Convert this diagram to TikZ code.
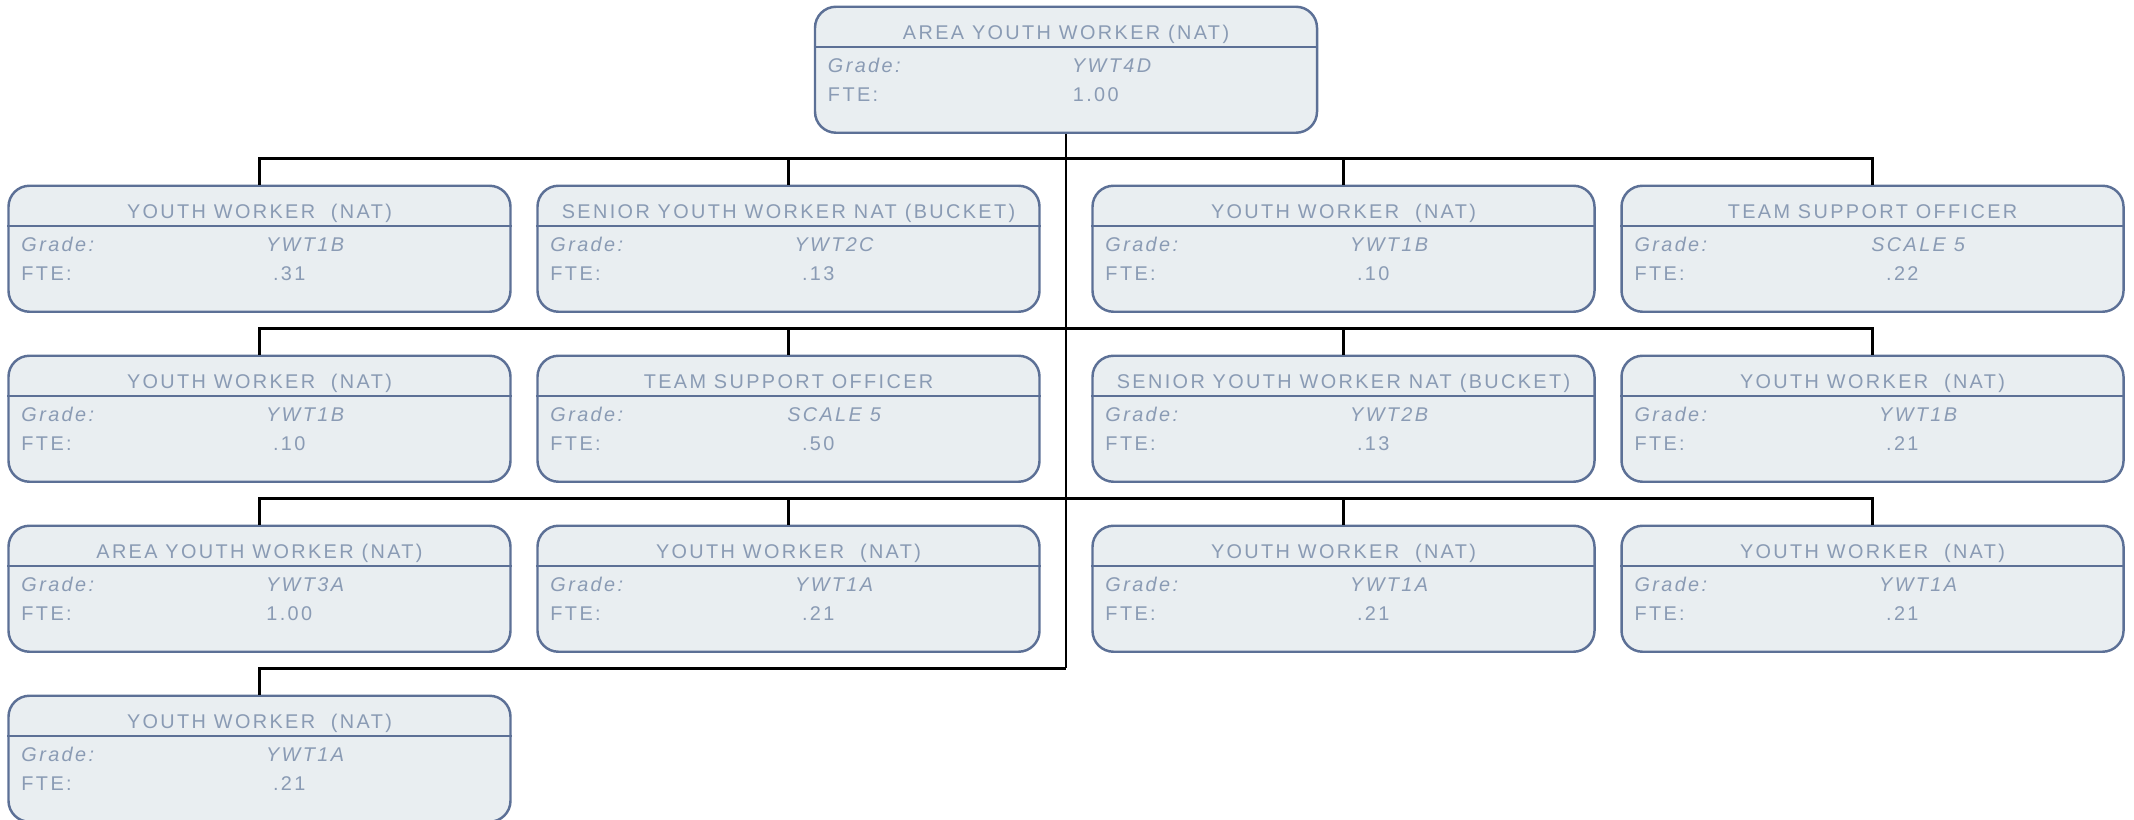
\documentclass[tikz,border=0pt]{standalone}
\usepackage{fontspec}
\setmainfont{Liberation Sans}[LetterSpace=12]
\definecolor{boxfill}{RGB}{233,238,241}
\definecolor{boxline}{RGB}{92,112,150}
\definecolor{boxtext}{RGB}{138,155,180}
\tikzset{
  orgbox/.style={draw=boxline, line width=0.7pt, fill=boxfill, rounded corners=0.21cm,
    minimum width=5.02cm, minimum height=1.26cm, anchor=north, inner sep=0pt},
  boxtxt/.style={text=boxtext, inner sep=0pt, anchor=base},
  link/.style={line width=0.75pt, black},
}
\begin{document}
\begin{tikzpicture}[font=\fontsize{5.65}{6.5}\selectfont]
  \useasboundingbox (0,0) rectangle (21.34,-8.19);

  % Posts (name/x/top/title/grade/fte)
  \foreach \n/\x/\y/\t/\g/\f in {
      top/10.66/-0.055/{AREA YOUTH WORKER (NAT)}/YWT4D/1.00,
      b11/2.595/-1.845/{YOUTH WORKER\ \ (NAT)}/YWT1B/.31,
      b12/7.885/-1.845/{SENIOR YOUTH WORKER NAT (BUCKET)}/YWT2C/.13,
      b13/13.435/-1.845/{YOUTH WORKER\ \ (NAT)}/YWT1B/.10,
      b14/18.725/-1.845/{TEAM SUPPORT OFFICER}/{SCALE 5}/.22,
      b21/2.595/-3.545/{YOUTH WORKER\ \ (NAT)}/YWT1B/.10,
      b22/7.885/-3.545/{TEAM SUPPORT OFFICER}/{SCALE 5}/.50,
      b23/13.435/-3.545/{SENIOR YOUTH WORKER NAT (BUCKET)}/YWT2B/.13,
      b24/18.725/-3.545/{YOUTH WORKER\ \ (NAT)}/YWT1B/.21,
      b31/2.595/-5.245/{AREA YOUTH WORKER (NAT)}/YWT3A/1.00,
      b32/7.885/-5.245/{YOUTH WORKER\ \ (NAT)}/YWT1A/.21,
      b33/13.435/-5.245/{YOUTH WORKER\ \ (NAT)}/YWT1A/.21,
      b34/18.725/-5.245/{YOUTH WORKER\ \ (NAT)}/YWT1A/.21,
      b41/2.595/-6.945/{YOUTH WORKER\ \ (NAT)}/YWT1A/.21} {
    \node[orgbox] (\n) at (\x,\y) {};
    \draw[boxline, line width=0.7pt] ([yshift=-0.415cm]\n.north west) -- ([yshift=-0.415cm]\n.north east);
    \node[boxtxt] (\n-t) at ([yshift=-0.34cm]\n.north) {\t};
    \node[boxtxt, anchor=base west] (\n-gl) at ([xshift=0.135cm, yshift=-0.665cm]\n.north west) {\textit{Grade:}};
    \node[boxtxt, anchor=base west] (\n-fl) at ([xshift=0.135cm, yshift=-0.955cm]\n.north west) {FTE:};
    \node[boxtxt] (\n-g) at ([xshift=2.99cm, yshift=-0.665cm]\n.north west) {\textit{\g}};
    \node[boxtxt] (\n-f) at ([xshift=2.82cm, yshift=-0.955cm]\n.north west) {\f};
  }

  % Trunk and junctions
  \coordinate (j1) at (10.66,-1.583);
  \coordinate (j2) at (10.66,-3.283);
  \coordinate (j3) at (10.66,-4.983);
  \coordinate (j4) at (10.66,-6.683);
  \draw[link] (top.south) -- (j4);

  % Branches
  \foreach \row/\j in {1/j1, 2/j2, 3/j3} {
    \draw[link] (b\row1.north) |- (\j) -| (b\row4.north);
    \draw[link] (b\row2.north) |- (\j);
    \draw[link] (b\row3.north) |- (\j);
  }
  \draw[link] (b41.north) |- (j4);
\end{tikzpicture}
\end{document}
